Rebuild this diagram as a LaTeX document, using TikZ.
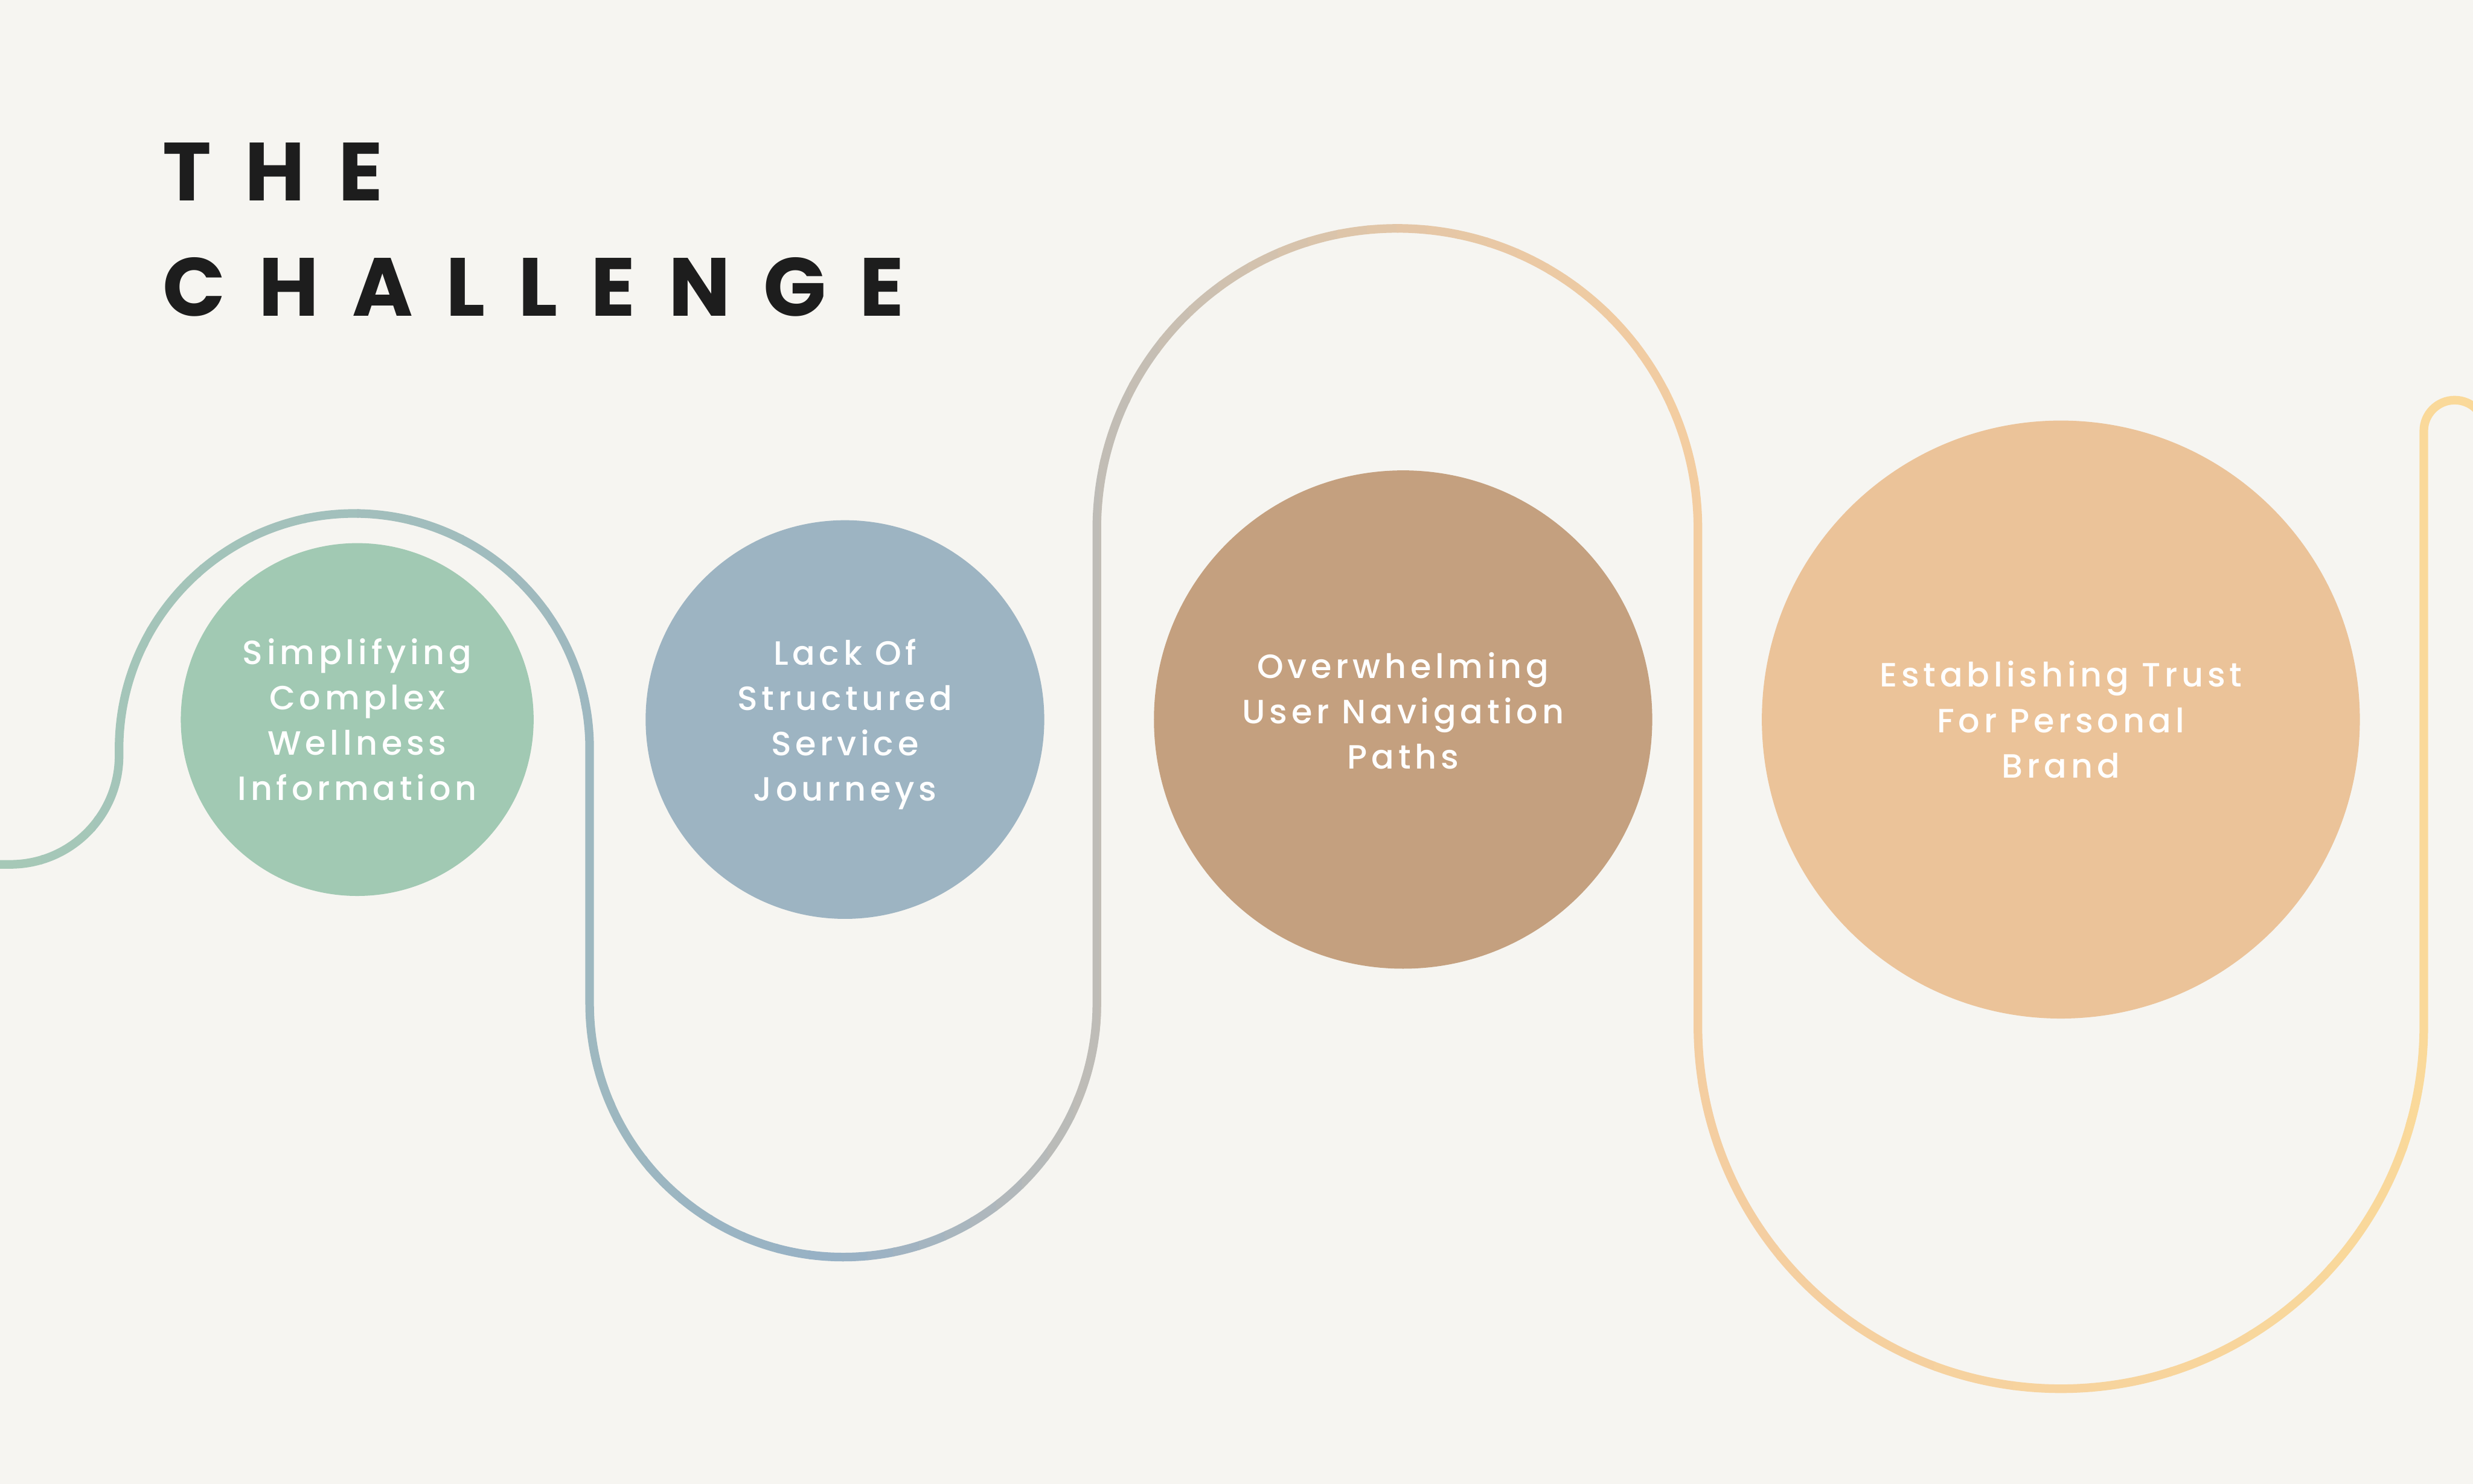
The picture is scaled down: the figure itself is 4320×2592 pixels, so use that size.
\documentclass[tikz,border=0pt]{standalone}
\usepackage{fontspec}
\setmainfont{Poppins}
\newfontfamily\headfont{Poppins}[LetterSpace=40]
\newfontfamily\discfont{Poppins Medium}[LetterSpace=12]
\usepackage{tikz}

\definecolor{paper}{HTML}{F6F5F1}
\definecolor{ink}{HTML}{1D1D1D}
\definecolor{sage}{HTML}{A1C9B3}
\definecolor{slate}{HTML}{9DB4C2}
\definecolor{camel}{HTML}{C4A07F}
\definecolor{apricot}{HTML}{EBC399}
% colour stops along the wave, left to right
\definecolor{wA}{HTML}{A6C9B7}
\definecolor{wB}{HTML}{A0BBBE}
\definecolor{wC}{HTML}{97B0C5}
\definecolor{wD}{HTML}{C0BDB6}
\definecolor{wE}{HTML}{E3C6A7}
\definecolor{wF}{HTML}{F4CDA1}
\definecolor{wG}{HTML}{FADA9A}

\def\wavepath{(-20,1510) -- (18,1510)
  arc[start angle=90, end angle=0, radius=190] -- (208,1308)
  arc[start angle=180, end angle=360, radius=411] -- (1030,1753)
  arc[start angle=180, end angle=0, radius=443] -- (1916,924)
  arc[start angle=180, end angle=360, radius=525] -- (2966,1792)
  arc[start angle=180, end angle=0, radius=634] -- (4234,753)
  arc[start angle=180, end angle=360, radius=54] -- (4342,900)}

\begin{document}
\begin{tikzpicture}[x=0.01cm, y=-0.01cm,
  disc/.style={circle, inner sep=0pt},
  caption/.style={align=center, inner sep=0pt, text=white, font=\discfont\fontsize{16.7}{22.5}\selectfont},
  heading/.style={anchor=base west, inner sep=0pt, text=ink, font=\headfont\bfseries\fontsize{41}{50}\selectfont},
  wave/.style={line width=0.15cm},
]
\useasboundingbox (0,0) rectangle (4320,2592);
\fill[paper] (0,0) rectangle (4320,2592);

% the wave, coloured strip by strip
\foreach \xa/\xb/\ca/\cb in {-20/900/wA/wB, 900/1470/wB/wC, 1470/1920/wC/wD,
    1920/2440/wD/wE, 2440/2966/wE/wF, 2966/4340/wF/wG}{
  \foreach \k in {0,...,9}{
    \pgfmathsetmacro\xl{\xa+(\xb-\xa)*\k/10}
    \pgfmathsetmacro\xr{\xa+(\xb-\xa)*(\k+1)/10+3}
    \pgfmathtruncatemacro\pc{95-10*\k}
    \begin{scope}
      \clip (\xl,0) rectangle (\xr,2592);
      \draw[wave, draw=\ca!\pc!\cb] \wavepath;
    \end{scope}
  }
}

\node[heading] (the) at (284,351) {THE};
\node[heading] (challenge) at (284,552) {CHALLENGE};

\node[disc, fill=sage, minimum size=6.16cm] (simplify) at (624,1257) {};
\node[disc, fill=slate, minimum size=6.96cm] (structure) at (1476,1257) {};
\node[disc, fill=camel, minimum size=8.7cm] (navigation) at (2451,1257) {};
\node[disc, fill=apricot, minimum size=10.44cm] (trust) at (3600,1257) {};

\node[caption] (simplify-txt) at (simplify) {Simplifying\\Complex\\Wellness\\Information};
\node[caption, yshift=-0.08cm] (structure-txt) at (structure) {Lack Of\\Structured\\Service\\Journeys};
\node[caption, yshift=0.15cm] (navigation-txt) at (navigation) {Overwhelming\\User Navigation\\Paths};
\node[caption] (trust-txt) at (trust) {Establishing Trust\\For Personal\\Brand};
\end{tikzpicture}
\end{document}
